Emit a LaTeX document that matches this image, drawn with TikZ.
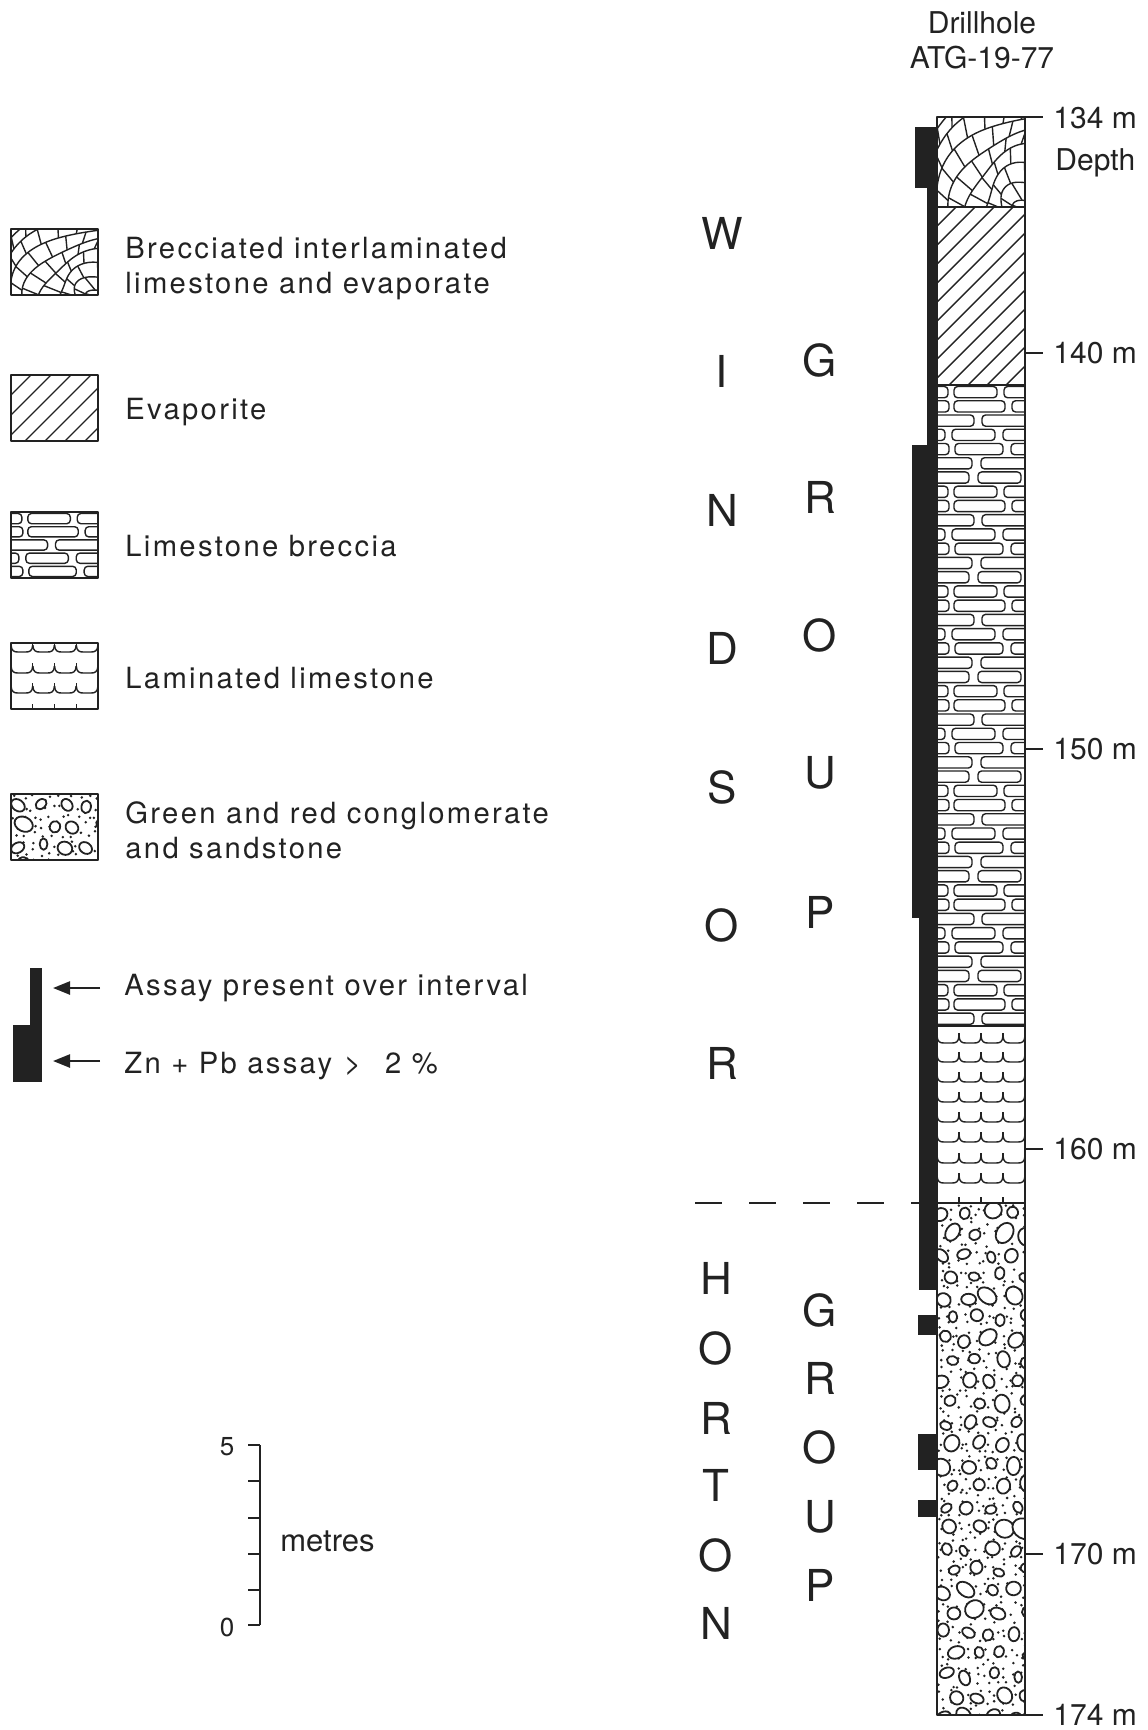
\documentclass[tikz,border=0pt]{standalone}
\usepackage{fontspec}
\setmainfont{TeX Gyre Heros}
\newfontfamily\legendfont[LetterSpace=8]{TeX Gyre Heros}
\usetikzlibrary{arrows.meta}
\definecolor{ink}{HTML}{222222}

\tikzset{
  outline/.style={draw=ink, line width=1pt},
  hatchline/.style={draw=ink, line width=0.7pt},
  pebble/.style={draw=ink, line width=0.9pt, fill=white},
  bar/.style={fill=ink, draw=none},
  legendtext/.style={anchor=base west, inner sep=0pt, align=left, text=ink,
    font=\legendfont\fontsize{14.6}{17.5}\selectfont},
  titletext/.style={anchor=base, inner sep=0pt, text=ink, font=\fontsize{15}{18}\selectfont},
  depthlabel/.style={anchor=west, inner sep=0pt, text=ink, font=\fontsize{15}{18}\selectfont},
  unitletter/.style={inner sep=0pt, text=ink, font=\fontsize{22}{22}\selectfont},
  scalelabel/.style={inner sep=0pt, text=ink, font=\fontsize{13}{15}\selectfont},
  pointer/.style={draw=ink, line width=1.2pt, -{Triangle[length=8.5pt,width=6.5pt]}},
}

% crackle network of the brecciated limestone/evaporite (local box 88 x 90)
\newcommand\drawBreccia{%
  \foreach \r in {18,34,50,66,82,98,114,130,146}{%
    \draw[hatchline] plot[domain=180:270,samples=25,smooth]
      ({96+(\r+4*sin(4*\x+40*\r))*cos(\x)},{96+(\r+4*sin(4*\x+40*\r))*sin(\x)});
  }%
  \foreach \k/\ra/\rb in {0/0/18,1/18/34,2/34/50,3/50/66,4/66/82,5/82/98,6/98/114,7/114/130,8/130/146}{%
    \pgfmathtruncatemacro\nseg{\k+2}%
    \foreach \j in {1,...,\nseg}{%
      \pgfmathsetmacro\ang{180+90*(\j-0.5+0.3*mod(\k,2)-0.15)/\nseg}%
      \pgfmathsetmacro\rin{\ra+4*sin(4*\ang+40*\ra)}%
      \pgfmathsetmacro\rout{\rb+4*sin(4*(\ang+5)+40*\rb)}%
      \draw[hatchline] ({96+\rin*cos(\ang)},{96+\rin*sin(\ang)}) -- ({96+\rout*cos(\ang+5)},{96+\rout*sin(\ang+5)});
    }%
  }%
}

% diagonal hatching of the evaporite: x0, y0, x1, y1, spacing
\newcommand\drawEvaporite[5]{%
  \begin{scope}
    \clip (#1,#2) rectangle (#3,#4);
    \pgfmathtruncatemacro\nlines{((#3-#1)+(#4-#2))/#5+1}%
    \foreach \i in {0,...,\nlines}{%
      \pgfmathsetmacro\xs{#1-(#4-#2)+\i*#5}%
      \draw[hatchline] (\xs,#4) -- ++({#4-#2},{-(#4-#2)});
    }%
  \end{scope}}

% one row of limestone blocks: top, row height, list of left/right ends
\newcommand\limerow[3]{%
  \foreach \a/\b in {#3}{%
    \draw[hatchline, rounded corners=1.8pt] (\a,{#1+1.5}) rectangle (\b,{#1+#2-1.5});
  }}
% limestone breccia (local width 88): row height, rows, first row type
\newcommand\drawLimeBreccia[3]{%
  \foreach \r in {1,...,#2}{%
    \pgfmathsetmacro\ytop{(\r-1)*#1}%
    \pgfmathtruncatemacro\rt{mod(\r-1+#3,7)}%
    \ifcase\rt
      \limerow{\ytop}{#1}{-6/11,17/60,67/95}%
    \or \limerow{\ytop}{#1}{-6/12,17/68,75/95}%
    \or \limerow{\ytop}{#1}{-6/37,45/95}%
    \or \limerow{\ytop}{#1}{-6/8,15/58,66/95}%
    \or \limerow{\ytop}{#1}{-6/12,18/66,74/95}%
    \or \limerow{\ytop}{#1}{-6/35,44/95}%
    \or \limerow{\ytop}{#1}{-6/32,41/84,90/100}%
    \fi
  }}

% one scalloped lamina: x0, cell width, cells, baseline
\newcommand\lamrow[4]{%
  \foreach \c in {1,...,#3}{%
    \pgfmathsetmacro\xa{#1+(\c-1)*#2}%
    \pgfmathsetmacro\xb{\xa+#2}%
    \draw[hatchline] (\xa,{#4-7}) .. controls ({\xa+0.5},{#4-1}) and ({\xa+3},#4) .. ({\xa+7},#4)
      -- ({\xb-7},#4) .. controls ({\xb-3},#4) and ({\xb-0.5},{#4-1}) .. (\xb,{#4-7});
    \draw[hatchline] (\xb,{#4-5}) -- (\xb,{#4-10});
  }}

% pebbles and sand grains: x0, y0, x1, y1, seed
\newcommand\drawConglomerate[5]{%
  \begin{scope}
    \clip (#1,#2) rectangle (#3,#4);
    \pgfmathsetseed{#5}%
    \pgfmathtruncatemacro\ndx{(#3-#1)/9}%
    \pgfmathtruncatemacro\ndy{(#4-#2)/9}%
    \foreach \i in {0,...,\ndx}{%
      \foreach \j in {0,...,\ndy}{%
        \pgfmathsetmacro\px{#1+4.5+\i*9+3.5*rand}%
        \pgfmathsetmacro\py{#2+4.5+\j*9+3.5*rand}%
        \fill[ink] (\px,\py) circle[radius=0.7pt];
      }}%
    \pgfmathtruncatemacro\npx{(#3-#1)/24}%
    \pgfmathtruncatemacro\npy{(#4-#2)/21}%
    \foreach \i in {0,...,\npx}{%
      \foreach \j in {0,...,\npy}{%
        \pgfmathsetmacro\px{#1+6+\i*24+4*rand+10*mod(\j,2)}%
        \pgfmathsetmacro\py{#2+10+\j*21+3*rand}%
        \pgfmathsetmacro\ra{2.8+3.6*rnd*rnd}%
        \pgfmathsetmacro\rb{\ra*(0.65+0.3*rnd)}%
        \pgfmathsetmacro\ang{180*rnd}%
        \draw[pebble, rotate around={\ang:(\px,\py)}]
          (\px,\py) ellipse[x radius=\ra pt, y radius=\rb pt];
      }}%
  \end{scope}}

\begin{document}
\begin{tikzpicture}[x=0.5pt, y=-0.5pt, line join=round]
\useasboundingbox (0,0) rectangle (1147,1730);

% ---------------- drillhole column ----------------
\begin{scope}[shift={(937,117)}]
  \clip (0,0) rectangle (88,90);
  \drawBreccia
\end{scope}
\drawEvaporite{937}{207}{1025}{385}{19}
\begin{scope}[shift={(937,385)}]
  \clip (0,0) rectangle (88,641);
  \drawLimeBreccia{14.24}{45}{0}
\end{scope}
\begin{scope}
  \clip (937,1026) rectangle (1025,1203);
  \foreach \b in {1043,1062,1082,1102,1122,1142,1163,1183}{\lamrow{937}{22}{4}{\b}}
  \foreach \c in {1,2,3}{\draw[hatchline] ({937+22*\c},1203) -- ++(0,-6);}
\end{scope}
\drawConglomerate{937}{1203}{1025}{1715}{7}

% section boundaries and column frame
\foreach \y in {207,385,1026,1203}{\draw[outline] (937,\y) -- (1025,\y);}
\draw[outline] (937,117) rectangle (1025,1715);
\draw[outline] (1025,117) -- (1043,117);
\draw[outline] (1025,1715) -- (1043,1715);
\foreach \y in {353,749,1149,1554}{\draw[outline] (1025,\y) -- (1043,\y);}

% Windsor / Horton contact
\draw[ink, line width=1pt, dash pattern=on 13.5pt off 13.5pt] (695,1203) -- (937,1203);

% assay intervals
\fill[bar] (915,127) rectangle (937,188);
\fill[bar] (927,188) rectangle (937,445);
\fill[bar] (912,445) rectangle (937,918);
\fill[bar] (919,918) rectangle (937,1290);
\fill[bar] (918,1315) rectangle (937,1335);
\fill[bar] (918,1434) rectangle (937,1470);
\fill[bar] (918,1500) rectangle (937,1517);

% column heading and depth marks
\node[titletext] (title1) at (982,33) {Drillhole};
\node[titletext] (title2) at (982,68) {ATG-19-77};
\node[depthlabel] (d134) at (1053,118) {134 m};
\node[depthlabel, anchor=base west] (depthword) at (1055,170) {Depth};
\node[depthlabel] (d140) at (1053,353) {140 m};
\node[depthlabel] (d150) at (1053,749) {150 m};
\node[depthlabel] (d160) at (1053,1149) {160 m};
\node[depthlabel] (d170) at (1053,1554) {170 m};
\node[depthlabel] (d174) at (1053,1715) {174 m};

% unit names
\foreach \L/\y [count=\n] in {W/233,I/371,N/510,D/648,S/787,O/925,R/1063}
  {\node[unitletter] (windsor\n) at (722,\y) {\L};}
\foreach \L/\y [count=\n] in {G/360,R/497,O/635,U/773,P/912}
  {\node[unitletter] (wgroup\n) at (820,\y) {\L};}
\foreach \L/\y [count=\n] in {H/1278,O/1348,R/1418,T/1485,O/1555,N/1623}
  {\node[unitletter] (horton\n) at (716,\y) {\L};}
\foreach \L/\y [count=\n] in {G/1310,R/1378,O/1447,U/1517,P/1585}
  {\node[unitletter] (hgroup\n) at (820,\y) {\L};}

% ---------------- legend ----------------
\begin{scope}[shift={(11,229)}, xscale=0.989, yscale=0.7333]
  \clip (0,0) rectangle (88,90);
  \drawBreccia
\end{scope}
\draw[outline] (11,229) rectangle (98,295);
\node[legendtext] (lgBreccia) at (125,293) {Brecciated interlaminated\\limestone and evaporate};

\drawEvaporite{11}{375}{98}{441}{20}
\draw[outline] (11,375) rectangle (98,441);
\node[legendtext] (lgEvap) at (125,419) {Evaporite};

\begin{scope}[shift={(11,512)}, xscale=0.989]
  \clip (0,0) rectangle (88,66);
  \drawLimeBreccia{13.2}{5}{0}
\end{scope}
\draw[outline] (11,512) rectangle (98,578);
\node[legendtext] (lgLime) at (125,556) {Limestone breccia};

\begin{scope}
  \clip (11,643) rectangle (98,709);
  \foreach \b in {652,673,693}{\lamrow{11}{21.75}{4}{\b}}
  \foreach \c in {1,2,3}{\draw[hatchline] ({11+21.75*\c},709) -- ++(0,-5);}
\end{scope}
\draw[outline] (11,643) rectangle (98,709);
\node[legendtext] (lgLam) at (125,688) {Laminated limestone};

\drawConglomerate{11}{794}{98}{860}{21}
\draw[outline] (11,794) rectangle (98,860);
\node[legendtext] (lgCong) at (125,858) {Green and red conglomerate\\and sandstone};

\fill[bar] (30,968) rectangle (42,1082);
\fill[bar] (12.5,1025) rectangle (42,1082);
\coordinate (tailA) at (100,988);
\coordinate (tipA) at (53,988);
\coordinate (tailB) at (100,1061);
\coordinate (tipB) at (53,1061);
\draw[pointer] (tailA) -- (tipA);
\draw[pointer] (tailB) -- (tipB);
\node[legendtext] (lgAssay) at (124,995) {Assay present over interval};
\node[legendtext] (lgZnPb) at (124,1073) {Zn + Pb assay\hspace{6pt}>\hspace{12pt}2 \%};

% ---------------- scale bar ----------------
\draw[outline] (260,1445) -- (260,1625);
\foreach \y in {1445,1481,1518,1554,1590,1625}{\draw[outline] (248,\y) -- (260,\y);}
\node[scalelabel] (s5) at (227,1447) {5};
\node[scalelabel] (s0) at (227,1627) {0};
\node[inner sep=0pt, anchor=west, text=ink, font=\fontsize{15.5}{18}\selectfont] (metres) at (280,1541) {metres};

\end{tikzpicture}
\end{document}
